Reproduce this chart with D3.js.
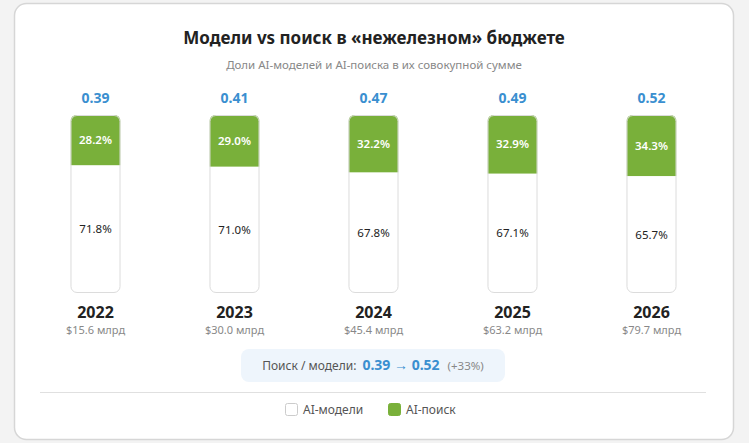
<!DOCTYPE html>
<html><head><meta charset="utf-8">
<script src="https://cdn.jsdelivr.net/npm/d3@7"></script>
<style>body{margin:0;background:#f3f3f3;font-family:"Noto Sans",sans-serif}</style>
</head><body>
<script>
// data
const years = ["2022", "2023", "2024", "2025", "2026"];
const searchShare = [28.2, 29.0, 32.2, 32.9, 34.3];
const modelShare = [71.8, 71.0, 67.8, 67.1, 65.7];
const ratios = ["0.39", "0.41", "0.47", "0.49", "0.52"];
const totals = ["$15.6 млрд", "$30.0 млрд", "$45.4 млрд", "$63.2 млрд", "$79.7 млрд"];

const W = 749, H = 443;
const svg = d3.select("body").append("svg").attr("width", W).attr("height", H);

svg.append("rect").attr("x", 14.5).attr("y", 3.5).attr("width", 719).attr("height", 436)
  .attr("rx", 12).attr("fill", "#fff").attr("stroke", "#d6d6d6").attr("stroke-width", 1.5);

svg.append("text").attr("x", 374).attr("y", 44).attr("text-anchor", "middle")
  .attr("font-size", 17).attr("font-weight", 700).attr("fill", "#222")
  .text("Модели vs поиск в «нежелезном» бюджете");
svg.append("text").attr("x", 374).attr("y", 69).attr("text-anchor", "middle")
  .attr("font-size", 11.5).attr("fill", "#888")
  .text("Доли AI-моделей и AI-поиска в их совокупной сумме");

const x = d3.scaleBand().domain(years).range([26, 721]).paddingInner(0.64).paddingOuter(0.32);
const y = d3.scaleLinear().domain([0, 100]).range([293, 115]);

const g = svg.selectAll("g.bar").data(years).enter().append("g").attr("class", "bar");
const bw = x.bandwidth();

g.append("clipPath").attr("id", (d, i) => "c" + i)
  .append("rect").attr("x", d => x(d)).attr("y", y(100)).attr("width", bw)
  .attr("height", y(0) - y(100)).attr("rx", 6);
g.append("rect").attr("clip-path", (d, i) => "url(#c" + i + ")")
  .attr("x", d => x(d)).attr("y", y(100)).attr("width", bw)
  .attr("height", (d, i) => y(100 - searchShare[i]) - y(100)).attr("fill", "#79b03a");
g.append("rect").attr("x", d => x(d) + 0.5).attr("y", y(100) + 0.5).attr("width", bw - 1)
  .attr("height", y(0) - y(100) - 1).attr("rx", 6).attr("fill", "none").attr("stroke", "#dcdcdc");

const cx = d => x(d) + bw / 2;
g.append("text").attr("x", cx).attr("y", (d, i) => (y(100) + y(100 - searchShare[i])) / 2 + 4)
  .attr("text-anchor", "middle").attr("font-size", 11.5).attr("font-weight", 600).attr("fill", "#fff")
  .text((d, i) => searchShare[i].toFixed(1) + "%");
g.append("text").attr("x", cx).attr("y", (d, i) => (y(0) + y(modelShare[i])) / 2 + 4)
  .attr("text-anchor", "middle").attr("font-size", 11.5).attr("fill", "#222")
  .text((d, i) => modelShare[i].toFixed(1) + "%");
g.append("text").attr("x", cx).attr("y", 103).attr("text-anchor", "middle")
  .attr("font-size", 14).attr("font-weight", 700).attr("fill", "#3a8fd0").text((d, i) => ratios[i]);
g.append("text").attr("x", cx).attr("y", 318).attr("text-anchor", "middle")
  .attr("font-size", 16).attr("font-weight", 700).attr("fill", "#222").text(d => d);
g.append("text").attr("x", cx).attr("y", 334).attr("text-anchor", "middle")
  .attr("font-size", 11).attr("fill", "#888").text((d, i) => totals[i]);

svg.append("rect").attr("x", 241).attr("y", 349).attr("width", 264).attr("height", 33)
  .attr("rx", 8).attr("fill", "#eef5fc");
const pill = svg.append("text").attr("x", 373).attr("y", 370).attr("text-anchor", "middle");
pill.append("tspan").attr("font-size", 12).attr("fill", "#555").text("Поиск / модели:");
pill.append("tspan").attr("dx", 6).attr("font-size", 14).attr("font-weight", 700).attr("fill", "#3a8fd0")
  .text(ratios[0] + " → " + ratios[ratios.length - 1]);
pill.append("tspan").attr("dx", 8).attr("font-size", 11.5).attr("fill", "#888").text("(+33%)");

svg.append("line").attr("x1", 40).attr("x2", 706).attr("y1", 392.5).attr("y2", 392.5).attr("stroke", "#e0e0e0");

const legend = [["AI-модели", "#fff", 285], ["AI-поиск", "#79b03a", 388]];
legend.forEach(([t, c, lx]) => {
  svg.append("rect").attr("x", lx + 0.5).attr("y", 403.5).attr("width", 12).attr("height", 12)
    .attr("rx", 2).attr("fill", c).attr("stroke", c === "#fff" ? "#ccc" : c);
  svg.append("text").attr("x", lx + 18).attr("y", 414).attr("font-size", 12).attr("fill", "#555").text(t);
});
</script>
</body></html>
